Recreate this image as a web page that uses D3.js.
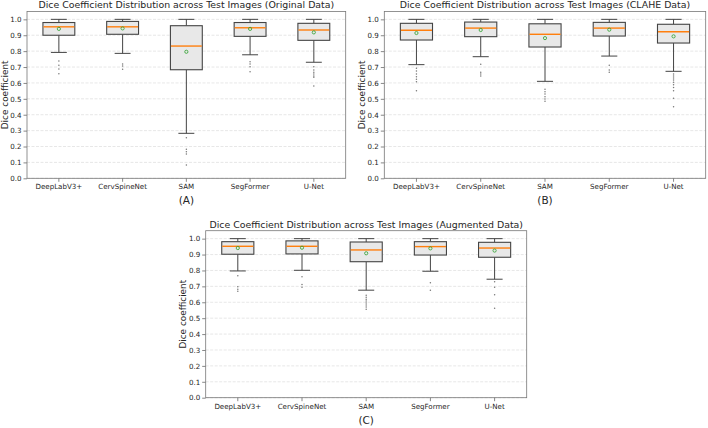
<!DOCTYPE html>
<html>
<head>
<meta charset="utf-8">
<script src="https://cdn.jsdelivr.net/npm/d3@7"></script>
<style>
  body { margin: 0; background: #fff; }
  text { font-family: "DejaVu Sans", sans-serif; fill: #262626; }
</style>
</head>
<body>
<div id="chart"></div>
<script>
// model names on the x axis
const models = ["DeepLabV3+", "CervSpineNet", "SAM", "SegFormer", "U-Net"];
const yTicks = [0, 0.1, 0.2, 0.3, 0.4, 0.5, 0.6, 0.7, 0.8, 0.9, 1.0];

// box stats per model: [whisker low, Q1, median, Q3, whisker high, mean]
const originalStats = [
  [0.792, 0.900, 0.953, 0.980, 1.0, 0.940],
  [0.786, 0.906, 0.953, 0.987, 1.0, 0.943],
  [0.283, 0.683, 0.832, 0.960, 1.0, 0.796],
  [0.777, 0.893, 0.947, 0.980, 1.0, 0.940],
  [0.730, 0.868, 0.933, 0.975, 1.0, 0.918]
];
const originalOutliers = [
  [0.738, 0.712, 0.687, 0.658],
  [0.719, 0.706, 0.686],
  [0.255, 0.182, 0.167, 0.153, 0.084],
  [0.733, 0.719, 0.702, 0.671],
  [0.702, 0.681, 0.667, 0.656, 0.643, 0.635, 0.580]
];

const claheStats = [
  [0.715, 0.870, 0.931, 0.975, 1.0, 0.914],
  [0.765, 0.891, 0.945, 0.983, 1.0, 0.933],
  [0.610, 0.826, 0.906, 0.972, 1.0, 0.882],
  [0.769, 0.895, 0.945, 0.981, 1.0, 0.935],
  [0.673, 0.851, 0.922, 0.969, 1.0, 0.893]
];
const claheOutliers = [
  [0.692, 0.675, 0.656, 0.639, 0.623, 0.608, 0.551],
  [0.717, 0.667, 0.656, 0.643],
  [0.560, 0.545, 0.530, 0.513, 0.499, 0.484],
  [0.711, 0.681, 0.667],
  [0.656, 0.643, 0.631, 0.618, 0.604, 0.589, 0.572, 0.551, 0.504, 0.450]
];

const augmentedStats = [
  [0.797, 0.902, 0.952, 0.981, 1.0, 0.941],
  [0.801, 0.904, 0.952, 0.986, 1.0, 0.943],
  [0.676, 0.855, 0.929, 0.979, 1.0, 0.908],
  [0.795, 0.897, 0.950, 0.981, 1.0, 0.939],
  [0.745, 0.883, 0.941, 0.977, 1.0, 0.925]
];
const augmentedOutliers = [
  [0.767, 0.698, 0.682, 0.669],
  [0.761, 0.711, 0.694],
  [0.644, 0.631, 0.619, 0.608, 0.596, 0.583, 0.570, 0.556],
  [0.723, 0.675],
  [0.729, 0.694, 0.648, 0.562]
];

// panel layout
const panels = [
  { title: "Dice Coefficient Distribution across Test Images (Original Data)", tag: "(A)",
    stats: originalStats, outliers: originalOutliers, left: 27, right: 345.7, top: 11.4, bottom: 178.3 },
  { title: "Dice Coefficient Distribution across Test Images (CLAHE Data)", tag: "(B)",
    stats: claheStats, outliers: claheOutliers, left: 384.3, right: 705.7, top: 11.4, bottom: 178.3 },
  { title: "Dice Coefficient Distribution across Test Images (Augmented Data)", tag: "(C)",
    stats: augmentedStats, outliers: augmentedOutliers, left: 205.7, right: 526.7, top: 230.7, bottom: 397.7 }
];

const svg = d3.select("#chart")
  .append("svg")
    .attr("width", 708)
    .attr("height", 428);

panels.forEach(p => {
  const w = p.right - p.left, h = p.bottom - p.top;
  const g = svg.append("g")
    .attr("transform", `translate(${p.left},${p.top})`);

  const x = d3.scaleBand()
    .domain(models)
    .range([0, w]);
  const y = d3.scaleLinear()
    .domain([0, 1.05])
    .range([h, 0]);

  // grid lines
  g.append("g")
    .selectAll("line")
    .data(yTicks)
    .enter()
    .append("line")
      .attr("x1", 0).attr("x2", w)
      .attr("y1", d => y(d)).attr("y2", d => y(d))
      .attr("stroke", "#dcdcdc")
      .attr("stroke-width", 0.7)
      .attr("stroke-dasharray", "3,1.5");

  // axes
  const yAxis = g.append("g")
    .call(d3.axisLeft(y).tickValues(yTicks).tickFormat(d3.format(".1f")).tickSize(3.5).tickPadding(2));
  const xAxis = g.append("g")
    .attr("transform", `translate(0,${h})`)
    .call(d3.axisBottom(x).tickSize(3.5).tickPadding(2.5));
  [yAxis, xAxis].forEach(a => {
    a.select(".domain").remove();
    a.selectAll(".tick line").attr("stroke", "#555").attr("stroke-width", 0.7);
    a.selectAll(".tick text").attr("font-size", "7.1px").attr("fill", "#262626")
      .attr("font-family", "DejaVu Sans, sans-serif");
  });

  // frame
  g.append("rect")
    .attr("width", w).attr("height", h)
    .attr("fill", "none")
    .attr("stroke", "#777")
    .attr("stroke-width", 0.8);

  const bw = x.bandwidth() * 0.5, cw = x.bandwidth() * 0.25;
  const box = g.selectAll(".box")
    .data(p.stats.map((s, i) => ({ name: models[i], s: s, out: p.outliers[i] })))
    .enter()
    .append("g")
      .attr("transform", d => `translate(${x(d.name) + x.bandwidth() / 2},0)`);

  // whiskers
  box.append("line")
    .attr("y1", d => y(d.s[0])).attr("y2", d => y(d.s[1]))
    .attr("stroke", "#444").attr("stroke-width", 1);
  box.append("line")
    .attr("y1", d => y(d.s[3])).attr("y2", d => y(d.s[4]))
    .attr("stroke", "#444").attr("stroke-width", 1);
  [0, 4].forEach(k => {
    box.append("line")
      .attr("x1", -cw / 2).attr("x2", cw / 2)
      .attr("y1", d => y(d.s[k])).attr("y2", d => y(d.s[k]))
      .attr("stroke", "#444").attr("stroke-width", 1);
  });

  // box
  box.append("rect")
    .attr("x", -bw / 2).attr("width", bw)
    .attr("y", d => y(d.s[3]))
    .attr("height", d => y(d.s[1]) - y(d.s[3]))
    .attr("fill", "#e8e8e8")
    .attr("stroke", "#444")
    .attr("stroke-width", 1.1);

  // median
  box.append("line")
    .attr("x1", -bw / 2 + 0.5).attr("x2", bw / 2 - 0.5)
    .attr("y1", d => y(d.s[2])).attr("y2", d => y(d.s[2]))
    .attr("stroke", "#ff7f0e").attr("stroke-width", 1.4);

  // mean
  box.append("circle")
    .attr("cy", d => y(d.s[5]))
    .attr("r", 1.6)
    .attr("fill", "none")
    .attr("stroke", "#2ca02c")
    .attr("stroke-width", 0.8);

  // outliers
  box.selectAll(".flier")
    .data(d => d.out)
    .enter()
    .append("circle")
      .attr("cy", d => y(d))
      .attr("r", 0.75)
      .attr("fill", "#777");

  // titles and labels
  g.append("text")
    .attr("x", w / 2).attr("y", -3.2)
    .attr("text-anchor", "middle")
    .attr("font-size", "9.4px")
    .text(p.title);

  g.append("text")
    .attr("transform", `translate(${-19.5},${h / 2}) rotate(-90)`)
    .attr("text-anchor", "middle")
    .attr("font-size", "8.9px")
    .text("Dice coefficient");

  g.append("text")
    .attr("x", w / 2).attr("y", h + 26)
    .attr("text-anchor", "middle")
    .attr("font-size", "10.5px")
    .text(p.tag);
});
</script>
</body>
</html>
